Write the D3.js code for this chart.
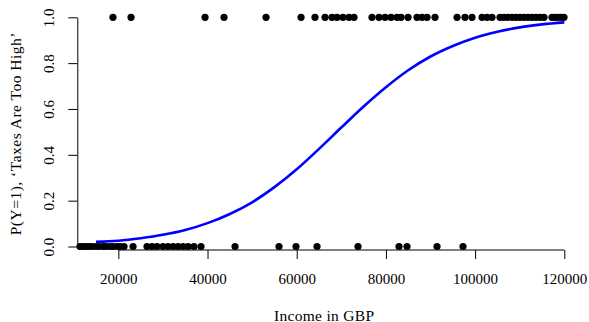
<!DOCTYPE html>
<html>
<head>
<meta charset="utf-8">
<script src="https://cdn.jsdelivr.net/npm/d3@7"></script>
<style>
  body { margin: 0; background: #fff; }
  text { font-family: "Liberation Serif", serif; }
</style>
</head>
<body>
<div class="visHolder"></div>
<script>
// incomes of respondents answering 1 (taxes too high)
var incomeYes = [18800, 22850, 39440, 43700, 53120, 60970, 64100, 66350, 67910, 69030,
    70380, 71730, 72850, 76880, 78450, 79800, 81140, 82490, 83390, 84960,
    86970, 88100, 89220, 91010, 95950, 97730, 99310, 101550, 102670, 103790,
    105580, 106480, 107370, 108270, 109170, 110060, 110960, 111860, 112760, 113650,
    114550, 115450, 117240, 117910, 118590, 119260, 119930];

// incomes of respondents answering 0
var incomeNo = [11410, 12090, 12760, 13430, 14100, 15000, 15670, 16570, 17240, 18140,
    18810, 19710, 20380, 21280, 23300, 26430, 27560, 28680, 30020, 31140,
    32260, 33390, 34510, 35630, 36970, 38540, 46170, 56030, 59840, 64550,
    73740, 82940, 84730, 91460, 97290];

// fitted probability curve
var curveIncome = [15000, 20000, 25000, 30000, 35000, 40000, 45000, 50000, 55000, 60000, 65000,
    70000, 75000, 80000, 85000, 90000, 95000, 100000, 105000, 110000, 115000, 120000];
var curveProb = [0.020, 0.025, 0.036, 0.051, 0.072, 0.102, 0.142, 0.193, 0.259, 0.337, 0.426,
    0.519, 0.611, 0.695, 0.769, 0.829, 0.875, 0.911, 0.937, 0.956, 0.969, 0.978];

var xTicks = [20000, 40000, 60000, 80000, 100000, 120000];
var yTicks = [0, 0.2, 0.4, 0.6, 0.8, 1.0];

var W = 589, H = 322;
var plotL = 77.3, plotR = 571, plotT = 17.3, plotB = 246.5;

var svg = d3.select(".visHolder")
    .append("svg")
    .attr("width", W)
    .attr("height", H);

var x = d3.scaleLinear()
    .domain([10800, 121500])
    .range([plotL, plotR]);

var y = d3.scaleLinear()
    .domain([0, 1])
    .range([plotB, plotT]);

// y axis
var yAxis = svg.append("g")
    .attr("transform", "translate(" + plotL + ",0)")
    .style("font-size", "15px")
    .call(d3.axisLeft(y).tickValues(yTicks).tickFormat(d3.format(".1f")).tickSize(9).tickSizeOuter(0));
yAxis.selectAll("line, path").attr("stroke", "#000");
yAxis.selectAll(".tick text")
    .attr("transform", "rotate(-90)")
    .attr("x", 0)
    .attr("y", -23)
    .attr("dy", 0)
    .attr("fill", "#000")
    .attr("text-anchor", "middle");

// x axis, line only between first and last tick
var axisY = 250;
var xAxis = svg.append("g")
    .attr("transform", "translate(0," + axisY + ")")
    .style("font-size", "15px")
    .call(d3.axisBottom(x).tickValues(xTicks).tickFormat(d3.format("d")).tickSize(9).tickSizeOuter(0));
xAxis.select(".domain").remove();
xAxis.append("line")
    .attr("x1", x(xTicks[0]))
    .attr("x2", x(xTicks[xTicks.length - 1]))
    .attr("stroke", "#000");
xAxis.selectAll(".tick line").attr("stroke", "#000");
xAxis.selectAll(".tick text")
    .attr("y", 34)
    .attr("dy", 0)
    .attr("fill", "#000");

// titles
svg.append("text")
    .attr("x", (plotL + plotR) / 2)
    .attr("y", 320.5)
    .attr("text-anchor", "middle")
    .style("font-size", "15.5px")
    .style("letter-spacing", "0.3px")
    .text("Income in GBP");

svg.append("text")
    .attr("transform", "translate(21," + ((plotT + axisY) / 2) + ") rotate(-90)")
    .attr("text-anchor", "middle")
    .style("font-size", "15.5px")
    .style("letter-spacing", "0.5px")
    .text("P(Y=1), \u2018Taxes Are Too High\u2019");

// points
svg.selectAll(".yes")
    .data(incomeYes)
    .enter()
    .append("circle")
    .attr("class", "yes")
    .attr("cx", (d) => x(d))
    .attr("cy", y(1))
    .attr("r", 3.6)
    .attr("fill", "#000");

svg.selectAll(".no")
    .data(incomeNo)
    .enter()
    .append("circle")
    .attr("class", "no")
    .attr("cx", (d) => x(d))
    .attr("cy", y(0))
    .attr("r", 3.6)
    .attr("fill", "#000");

// fitted curve
var line = d3.line()
    .x((d, i) => x(curveIncome[i]))
    .y((d) => y(d))
    .curve(d3.curveMonotoneX);

svg.append("path")
    .datum(curveProb)
    .attr("d", line)
    .attr("fill", "none")
    .attr("stroke", "#0000ff")
    .attr("stroke-width", 2.6);
</script>
</body>
</html>
